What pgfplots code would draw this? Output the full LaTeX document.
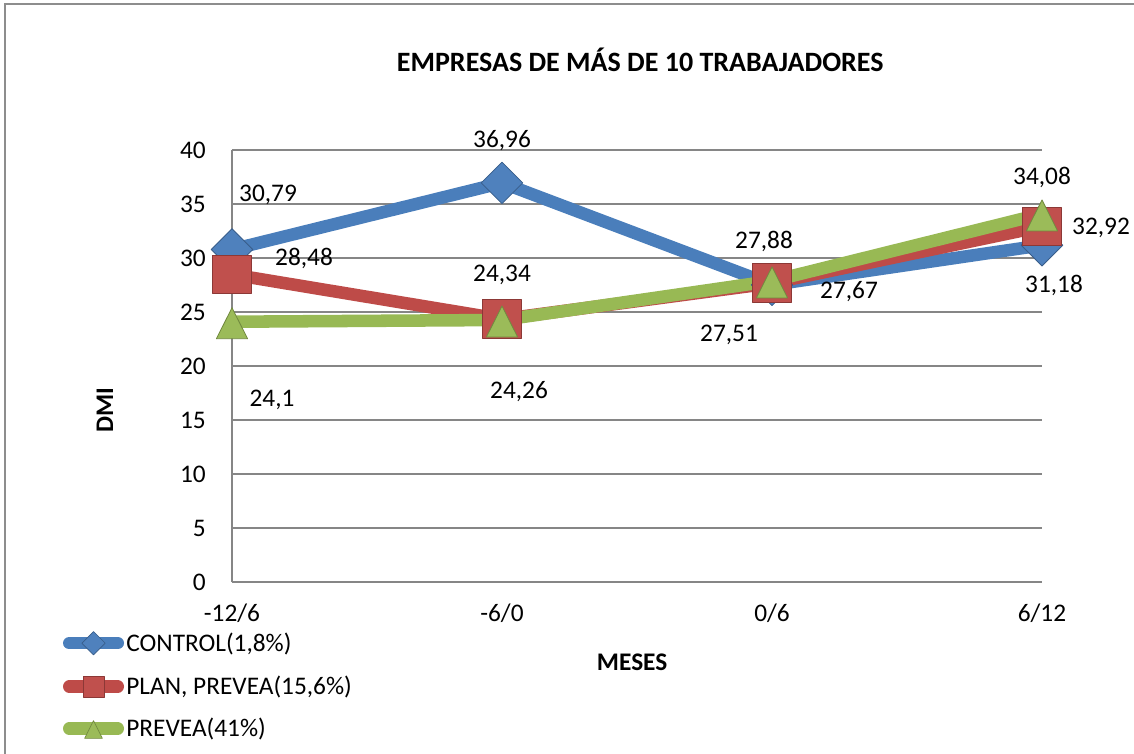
\documentclass[border=0pt]{standalone}
\usepackage{pgfplots}
\pgfplotsset{compat=1.18}
\usepackage{pgfplotstable}
\usepackage{fontspec}
\setmainfont{Carlito}

\definecolor{cblue}{HTML}{4A7EBB}
\definecolor{cbluef}{HTML}{4F81BD}
\definecolor{cbluee}{HTML}{385D8A}
\definecolor{cred}{HTML}{BE4B48}
\definecolor{credf}{HTML}{C0504D}
\definecolor{crede}{HTML}{8C3836}
\definecolor{cgreen}{HTML}{98B954}
\definecolor{cgreenf}{HTML}{9BBB59}
\definecolor{cgreene}{HTML}{71893F}
\definecolor{gridgray}{HTML}{868686}
\definecolor{bordergray}{HTML}{8D8D8D}

\pgfplotsset{
  blueleg/.style={legend image code/.code={
    \path[draw=none, fill=none] (0pt,-6pt) rectangle (47.5pt,6pt);
    \draw[##1, line cap=round] (4.7pt,0pt) -- (41.05pt,0pt);
    \draw[##1, mark size=6.2pt, mark options={rotate=45, fill=cbluef, draw=cbluee, line width=0.5pt}] plot coordinates {(22.875pt,0pt)};
  }},
  redleg/.style={legend image code/.code={
    \path[draw=none, fill=none] (0pt,-6pt) rectangle (47.5pt,6pt);
    \draw[##1, line cap=round] (4.7pt,0pt) -- (41.05pt,0pt);
    \draw[##1, mark size=7.8pt, mark options={fill=credf, draw=crede, line width=0.5pt}] plot coordinates {(22.875pt,0pt)};
  }},
  greenleg/.style={legend image code/.code={
    \path[draw=none, fill=none] (0pt,-6pt) rectangle (47.5pt,6pt);
    \draw[##1, line cap=round] (4.7pt,0pt) -- (41.05pt,0pt);
    \draw[##1, mark size=7.7pt, mark options={yshift=-2.9pt, yscale=1.15, fill=cgreenf, draw=cgreene, line width=0.5pt}] plot coordinates {(22.875pt,0pt)};
  }},
}

\pgfplotstableread{
x y lab dx dy
0 30.79 30,79 27 41
1 36.96 36,96 0 32
2 27.51 27,51 -32.25 -37.2
3 31.18 31,18 9 -29.8
}\control
\pgfplotstableread{
x y lab dx dy
0 28.48 28,48 54 12
1 24.34 24,34 0 33.5
2 27.67 27,67 57.75 -6
3 32.92 32,92 44.25 -1
}\plan
\pgfplotstableread{
x y lab dx dy
0 24.1 24,1 30 -53.5
1 24.26 24,26 12.75 -48.75
2 27.88 27,88 -6 34.5
3 34.08 34,08 0 32
}\prevea

\begin{document}
\begin{tikzpicture}[font=\fontsize{19}{22}\selectfont]
\begin{axis}[
  scale only axis, width=607.5pt, height=324pt,
  xmin=0, xmax=3, ymin=0, ymax=40,
  xtick={0,1,2,3}, xticklabels={-12/6,-6/0,0/6,6/12},
  ytick={0,5,...,40},
  /pgf/number format/assume math mode=true,
  axis line style={draw=none},
  major tick length=0pt,
  ymajorgrids, grid style={color=gridgray, line width=1.5pt},
  extra x ticks={0}, extra x tick labels={}, extra x tick style={grid=major},
  yticklabel style={inner sep=0pt, anchor=east, xshift=-19.5pt},
  xticklabel style={inner sep=0pt, anchor=north, yshift=-16pt},
  clip=false,
  title={\bfseries\fontsize{21}{25}\selectfont EMPRESAS DE MÁS DE 10 TRABAJADORES},
  title style={at={(axis description cs:0.504,1.19)}, anchor=center, inner sep=0pt},
  xlabel={\bfseries MESES},
  xlabel style={at={(axis description cs:0.494,-0.185)}, anchor=center, inner sep=0pt},
  ylabel={\bfseries DMI},
  ylabel style={at={(axis description cs:-0.157,0.398)}, anchor=center, inner sep=0pt},
  point meta=explicit symbolic,
  nodes near coords,
  visualization depends on={\thisrow{dx}\as\dx},
  visualization depends on={\thisrow{dy}\as\dy},
  nodes near coords style={anchor=center, inner sep=0pt, xshift=\dx pt, yshift=\dy pt, text=black, font=\fontsize{19}{22}\selectfont},
  every axis plot/.append style={line width=9.4pt, line join=round},
  legend style={at={(axis description cs:-0.2086,-0.1146)}, anchor=north west,
    draw=none, fill=none, inner sep=0pt, outer sep=0pt, row sep=16pt,
    nodes={inner sep=0pt}, font=\fontsize{19}{22}\selectfont},
  legend cell align=left,
]
\addplot[color=cblue, mark=square*, mark size=11pt,
  mark options={rotate=45, fill=cbluef, draw=cbluee, line width=0.6pt}, blueleg]
  table[x=x, y=y, meta=lab]{\control};
\addlegendentry{CONTROL(1,8\%)}
\addplot[color=cred, mark=square*, mark size=14.5pt,
  mark options={fill=credf, draw=crede, line width=0.6pt}, redleg]
  table[x=x, y=y, meta=lab]{\plan};
\addlegendentry{PLAN, PREVEA(15,6\%)}
\addplot[color=cgreen, mark=triangle*, mark size=13.5pt,
  mark options={yshift=-5pt, yscale=1.15, fill=cgreenf, draw=cgreene, line width=0.6pt}, greenleg]
  table[x=x, y=y, meta=lab]{\prevea};
\addlegendentry{PREVEA(41\%)}
\end{axis}
\draw[bordergray, line width=1.5pt] (-170.25pt,-200pt) -- (-170.25pt,433.5pt) -- (720pt,433.5pt);
\pgfresetboundingbox
\path[use as bounding box] (-174pt,-128.25pt) rectangle (676.5pt,436.5pt);
\end{tikzpicture}
\end{document}
